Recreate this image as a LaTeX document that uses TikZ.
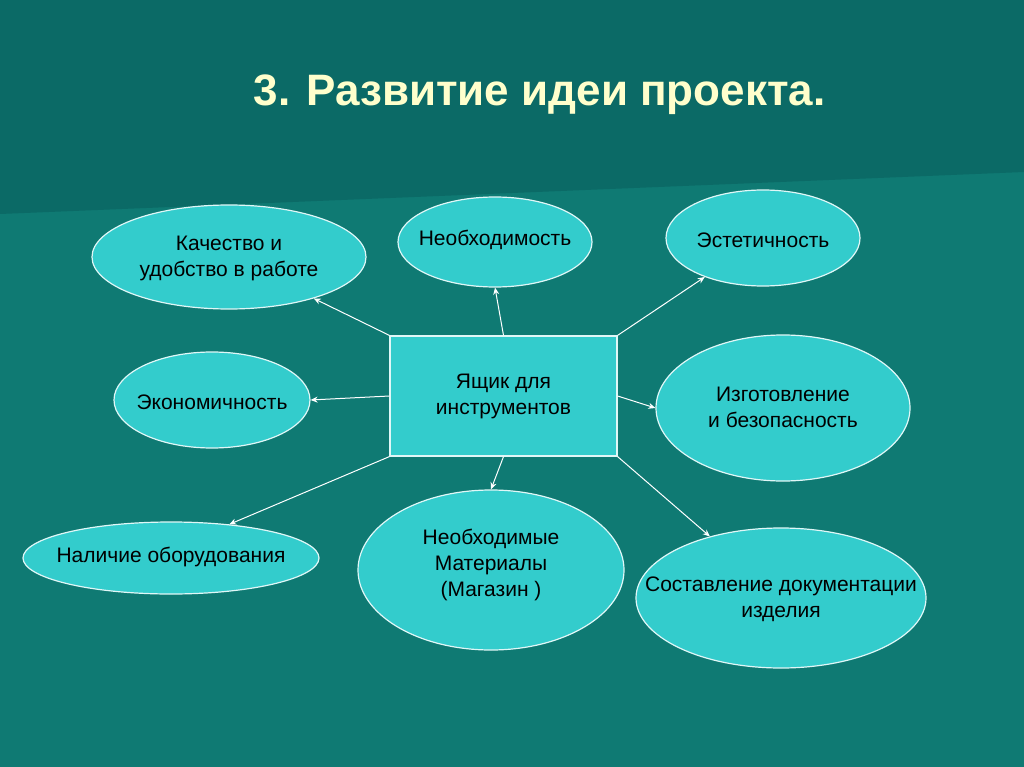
\documentclass[tikz,border=0pt]{standalone}
\usepackage{fontspec}
\setmainfont{Liberation Sans}
\usetikzlibrary{shapes.geometric,arrows.meta}
\definecolor{bgA}{HTML}{0B6A66}
\definecolor{bgB}{HTML}{0F7A73}
\definecolor{fillc}{HTML}{33CCCC}
\definecolor{titlec}{HTML}{FFFFCC}
\begin{document}
\begin{tikzpicture}[x=1pt,y=-1pt,
  ell/.style={ellipse,draw=white!85!fillc,line width=1.2pt,fill=fillc,inner sep=0pt},
  lbl/.style={align=center,font=\fontsize{21}{26}\selectfont},
  conn/.style={draw=white,line width=1pt,-{Stealth[length=7pt,width=6pt]}}]
\fill[bgB] (0,0) rectangle (1024,767);
\fill[bgA] (0,0) -- (1024,0) -- (1024,172) -- (0,214) -- cycle;
\useasboundingbox (0,0) rectangle (1024,767);
\node (title) [text=titlec,font=\bfseries\fontsize{44}{52}\selectfont,anchor=west] at (250,95) {3. Развитие идеи проекта.};
\node (box) [draw=white!85!fillc,line width=1.2pt,fill=fillc,minimum width=227pt,minimum height=120pt] at (503.5,396) {};
\node[lbl] at (box) {Ящик для\\инструментов};
\node (e1) [ell,minimum width=274pt,minimum height=104pt] at (229,257) {};
\node (e2) [ell,minimum width=194pt,minimum height=90pt] at (495,242) {};
\node (e3) [ell,minimum width=194pt,minimum height=96pt] at (763,238) {};
\node (e4) [ell,minimum width=196pt,minimum height=96pt] at (212,400) {};
\node (e5) [ell,minimum width=254pt,minimum height=146pt] at (783,408) {};
\node (e6) [ell,minimum width=296pt,minimum height=72pt] at (171,558) {};
\node (e7) [ell,minimum width=266pt,minimum height=160pt] at (491,570) {};
\node (e8) [ell,minimum width=290pt,minimum height=140pt] at (781,598) {};
\node[lbl] at (229,258) {Качество и\\удобство в работе};
\node[lbl] at (495,240) {Необходимость};
\node[lbl] at (763,240) {Эстетичность};
\node[lbl] at (212,402) {Экономичность};
\node[lbl] at (783,407) {Изготовление\\и безопасность};
\node[lbl] at (171,557) {Наличие оборудования};
\node[lbl] at (491,565) {Необходимые\\Материалы\\(Магазин )};
\node[lbl] at (781,599) {Составление документации\\изделия};
\draw[conn] (box.north west) -- (e1);
\draw[conn] (box.north) -- (e2.south);
\draw[conn] (box.north east) -- (e3);
\draw[conn] (box.west) -- (e4.east);
\draw[conn] (box.east) -- (e5.west);
\draw[conn] (box.south west) -- (e6.30);
\draw[conn] (box.south) -- (e7.north);
\draw[conn] (box.south east) -- (e8);
\end{tikzpicture}
\end{document}
